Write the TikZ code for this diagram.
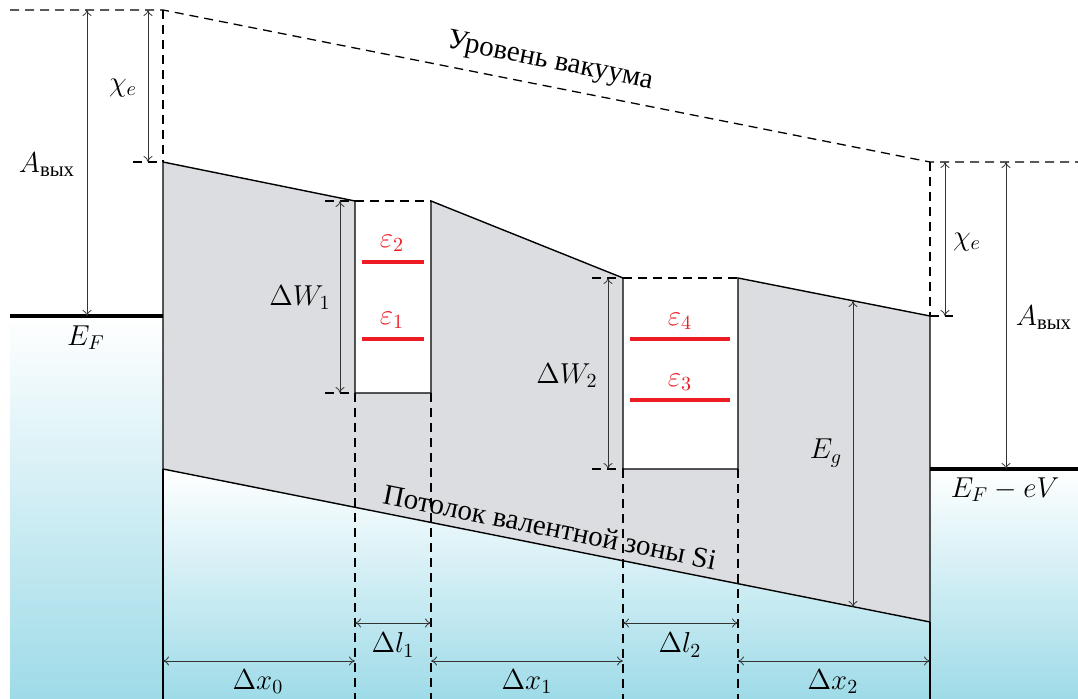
\documentclass[tikz,border=0pt]{standalone}
\usepackage{amsmath}
\usepackage{fontspec}
\newfontfamily\cyrfont{Liberation Serif}
\usetikzlibrary{arrows.meta}
\newcommand{\cyrt}[1]{{\cyrfont #1}}
\newcommand{\vyh}{\text{\cyrt{вых}}}
\definecolor{bandgray}{RGB}{220,221,224}
\definecolor{metalblue}{RGB}{158,219,232}
\definecolor{levelred}{RGB}{237,28,36}
\begin{document}
\begin{tikzpicture}[x=0.5pt,y=-0.5pt,
  every node/.style={font=\fontsize{14.8}{17}\selectfont, inner sep=1pt},
  edge/.style={line width=0.7pt, black},
  dsh/.style={line width=0.65pt, black, dash pattern=on 4.5pt off 3pt},
  fermi/.style={line width=1.6pt, black},
  level/.style={line width=1.7pt, levelred},
  dim/.style={line width=0.4pt, black!80, {To[length=3pt,width=4.5pt]}-{To[length=3pt,width=4.5pt]}},
  lvlabel/.style={text=levelred},
  cyrlabel/.style={font=\fontsize{14.5}{17}\selectfont\cyrfont}]
\useasboundingbox (0,0) rectangle (1078,699);
% key points
\coordinate (V0) at (10,10);
\coordinate (V1) at (163,10);
\coordinate (V2) at (930,162);
\coordinate (V3) at (1078,162);
\coordinate (C0) at (163,162);
\coordinate (W1tl) at (355,201);
\coordinate (W1bl) at (355,393);
\coordinate (W1br) at (431,393);
\coordinate (W1tr) at (431,201);
\coordinate (W2tl) at (623,278);
\coordinate (W2bl) at (623,469);
\coordinate (W2br) at (738,469);
\coordinate (W2tr) at (738,278);
\coordinate (C3) at (930,316);
\coordinate (VB1) at (930,622);
\coordinate (VB0) at (163,469);
\coordinate (B0) at (163,699);
\coordinate (B1) at (355,699);
\coordinate (B2) at (431,699);
\coordinate (B3) at (623,699);
\coordinate (B4) at (738,699);
\coordinate (B5) at (930,699);
\coordinate (FL0) at (10,316);
\coordinate (FL1) at (163,316);
\coordinate (FR0) at (930,469);
\coordinate (FR1) at (1078,469);
% metal / substrate shadings
\shade[top color=white, bottom color=metalblue] (FL0) rectangle (B0);
\shade[top color=white, bottom color=metalblue] (FR0) rectangle (1078,699);
\shade[top color=white, bottom color=metalblue] (VB0) -- (VB1) -- (B5) -- (B0) -- cycle;
% band
\filldraw[edge, fill=bandgray] (C0) -- (W1tl) -- (W1bl) -- (W1br) -- (W1tr) -- (W2tl) -- (W2bl) -- (W2br) -- (W2tr) -- (C3) -- (VB1) -- (VB0) -- cycle;
\draw[edge] (VB0) -- (B0);
\draw[edge] (VB1) -- (B5);
% vacuum level
\draw[dsh] (V0) -- (V1) -- (V2) -- (V3);
\draw[dsh] (V1) -- (C0);
\draw[dsh] (V2) -- (C3);
\coordinate (tL) at (133,162);
\draw[dsh] (tL) -- (C0);
\coordinate (tR) at (953,316);
\draw[dsh] (C3) -- (tR);
% well tops and ticks
\draw[dsh] (W1tl) -- (W1tr);
\draw[dsh] (W2tl) -- (W2tr);
\coordinate (t1a) at (325,201);
\coordinate (t1b) at (325,393);
\coordinate (t2a) at (592,278);
\coordinate (t2b) at (592,469);
\draw[dsh] (t1a) -- (W1tl);
\draw[dsh] (t1b) -- (W1bl);
\draw[dsh] (t2a) -- (W2tl);
\draw[dsh] (t2b) -- (W2bl);
% dashed drops
\draw[dsh] (W1bl) -- (B1);
\draw[dsh] (W1br) -- (B2);
\draw[dsh] (W2bl) -- (B3);
\draw[dsh] (W2br) -- (B4);
% Fermi levels
\draw[fermi] (FL0) -- (FL1);
\draw[fermi] (FR0) -- (FR1);
% levels
\coordinate (e2a) at (362,262); \coordinate (e2b) at (424,262);
\coordinate (e1a) at (362,339); \coordinate (e1b) at (424,339);
\coordinate (e4a) at (630,339); \coordinate (e4b) at (730,339);
\coordinate (e3a) at (630,400); \coordinate (e3b) at (730,400);
\draw[level] (e2a) -- (e2b);
\draw[level] (e1a) -- (e1b);
\draw[level] (e4a) -- (e4b);
\draw[level] (e3a) -- (e3b);
\node[lvlabel] (le2) at (392,243) {$\varepsilon_2$};
\node[lvlabel] (le1) at (392,320) {$\varepsilon_1$};
\node[lvlabel] (le4) at (680,321) {$\varepsilon_4$};
\node[lvlabel] (le3) at (680,382) {$\varepsilon_3$};
% dimension arrows
\coordinate (aL0) at (87,10); \coordinate (aL1) at (87,316);
\coordinate (cL0) at (148,10); \coordinate (cL1) at (148,162);
\coordinate (w1a) at (340,201); \coordinate (w1b) at (340,393);
\coordinate (w2a) at (608,278); \coordinate (w2b) at (608,469);
\coordinate (eg0) at (853,301); \coordinate (eg1) at (853,607);
\coordinate (cR0) at (945,162); \coordinate (cR1) at (945,316);
\coordinate (aR0) at (1006,162); \coordinate (aR1) at (1006,469);
\coordinate (l1a) at (355,623); \coordinate (l1b) at (431,623);
\coordinate (l2a) at (623,623); \coordinate (l2b) at (738,623);
\coordinate (x0a) at (163,661); \coordinate (x0b) at (355,661);
\coordinate (x1a) at (431,661); \coordinate (x1b) at (623,661);
\coordinate (x2a) at (738,661); \coordinate (x2b) at (930,661);
\draw[dim] (aL0) -- (aL1);
\draw[dim] (cL0) -- (cL1);
\draw[dim] (w1a) -- (w1b);
\draw[dim] (w2a) -- (w2b);
\draw[dim] (eg0) -- (eg1);
\draw[dim] (cR0) -- (cR1);
\draw[dim] (aR0) -- (aR1);
\draw[dim] (l1a) -- (l1b);
\draw[dim] (l2a) -- (l2b);
\draw[dim] (x0a) -- (x0b);
\draw[dim] (x1a) -- (x1b);
\draw[dim] (x2a) -- (x2b);
% labels
\node (lAL) at (47,165) {$A_{\vyh}$};
\node (lcL) at (123,88) {$\chi_e$};
\node (lEF) at (86,338) {$E_F$};
\node (lW1) at (300,298) {$\Delta W_1$};
\node (lW2) at (567,376) {$\Delta W_2$};
\node (lEg) at (826,453) {$E_g$};
\node (lcR) at (967,242) {$\chi_e$};
\node (lAR) at (1044,318) {$A_{\vyh}$};
\node (lEFV) at (1005,490) {$E_F - eV$};
\node (ll1) at (393,645) {$\Delta l_1$};
\node (ll2) at (680,645) {$\Delta l_2$};
\node (lx0) at (258,682) {$\Delta x_0$};
\node (lx1) at (527,682) {$\Delta x_1$};
\node (lx2) at (833,682) {$\Delta x_2$};
\node[cyrlabel, rotate=-11.2] (lvac) at (550,62) {Уровень вакуума};
\node[cyrlabel, rotate=-11.3] (lvb) at (550,527) {Потолок валентной зоны Si};
\end{tikzpicture}
\end{document}
